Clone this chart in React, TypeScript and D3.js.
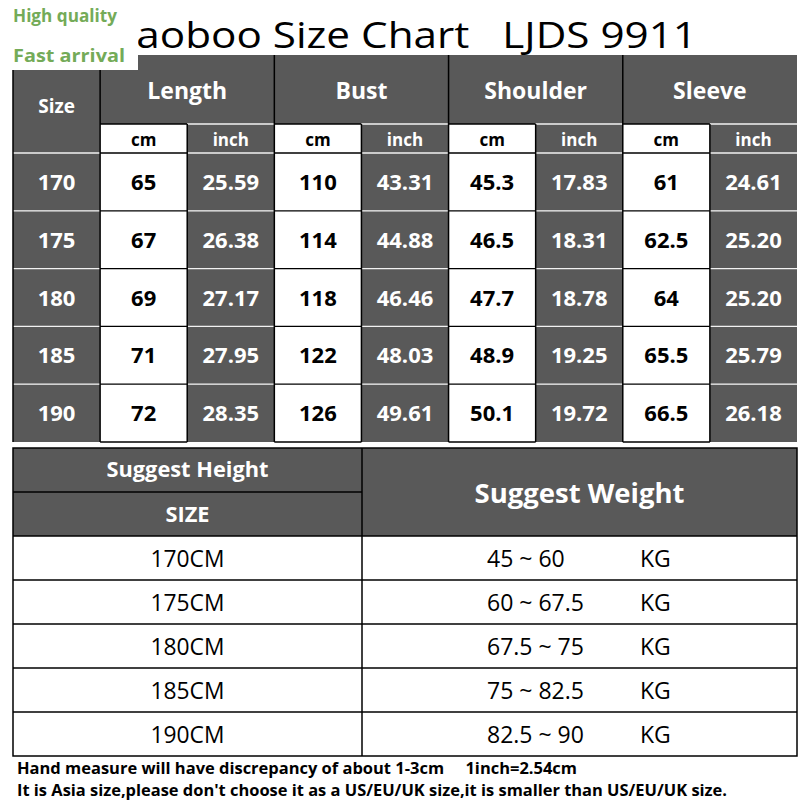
import React, { useEffect, useRef } from "react";
import * as d3 from "d3";

// size chart data
const sizes = ["170", "175", "180", "185", "190"];
const groups = ["Length", "Bust", "Shoulder", "Sleeve"];
const units = ["cm", "inch"];
const lengthCm = ["65", "67", "69", "71", "72"];
const lengthInch = ["25.59", "26.38", "27.17", "27.95", "28.35"];
const bustCm = ["110", "114", "118", "122", "126"];
const bustInch = ["43.31", "44.88", "46.46", "48.03", "49.61"];
const shoulderCm = ["45.3", "46.5", "47.7", "48.9", "50.1"];
const shoulderInch = ["17.83", "18.31", "18.78", "19.25", "19.72"];
const sleeveCm = ["61", "62.5", "64", "65.5", "66.5"];
const sleeveInch = ["24.61", "25.20", "25.20", "25.79", "26.18"];

const heights = ["170CM", "175CM", "180CM", "185CM", "190CM"];
const weights = ["45 ~ 60", "60 ~ 67.5", "67.5 ~ 75", "75 ~ 82.5", "82.5 ~ 90"];

const DARK = "#595959";
const FONT = "'Open Sans', 'Noto Sans', sans-serif";

const App = () => {
  const ref = useRef<SVGSVGElement>(null);

  useEffect(() => {
    drawChart();
  }, []);

  function drawChart() {
    const svg = d3.select(ref.current);
    svg.selectAll("*").remove();

    const columns = [
      sizes,
      lengthCm,
      lengthInch,
      bustCm,
      bustInch,
      shoulderCm,
      shoulderInch,
      sleeveCm,
      sleeveInch,
    ];

    const x = d3.scaleLinear().domain([0, columns.length]).range([13, 797]);
    const y = d3.scaleLinear().domain([0, sizes.length]).range([153, 442]);
    const headTop = 55;
    const subTop = 124;

    // title (first letter sits under the badge)
    svg
      .append("text")
      .attr("x", 113)
      .attr("y", 48)
      .attr("font-family", FONT)
      .attr("font-size", 37)
      .attr("fill", "#000")
      .attr("textLength", 584)
      .attr("lengthAdjust", "spacingAndGlyphs")
      .style("white-space", "pre")
      .text("Taoboo Size Chart   LJDS 9911");

    const isWhite = (c: number) => c > 0 && c % 2 === 1;

    // header fill
    svg
      .append("rect")
      .attr("x", x(0))
      .attr("y", headTop)
      .attr("width", x(columns.length) - x(0))
      .attr("height", y(0) - headTop)
      .attr("fill", DARK);

    // sub header cells (cm / inch)
    columns.forEach((_, c) => {
      if (c === 0) return;
      const g = svg.append("g");
      g.append("rect")
        .attr("x", x(c))
        .attr("y", subTop)
        .attr("width", x(c + 1) - x(c))
        .attr("height", y(0) - subTop)
        .attr("fill", isWhite(c) ? "#fff" : DARK);
      g.append("text")
        .attr("x", (x(c) + x(c + 1)) / 2)
        .attr("y", 145.5)
        .attr("text-anchor", "middle")
        .attr("font-family", FONT)
        .attr("font-weight", "bold")
        .attr("font-size", 17)
        .attr("fill", isWhite(c) ? "#000" : "#fff")
        .text(units[(c - 1) % 2]);
    });

    // group headers
    groups.forEach((name, i) => {
      svg
        .append("text")
        .attr("x", (x(1 + i * 2) + x(3 + i * 2)) / 2)
        .attr("y", 99)
        .attr("text-anchor", "middle")
        .attr("font-family", FONT)
        .attr("font-weight", "bold")
        .attr("font-size", 23)
        .attr("fill", "#fff")
        .text(name);
    });
    svg
      .append("text")
      .attr("x", (x(0) + x(1)) / 2)
      .attr("y", 113)
      .attr("text-anchor", "middle")
      .attr("font-family", FONT)
      .attr("font-weight", "bold")
      .attr("font-size", 19)
      .attr("fill", "#fff")
      .text("Size");

    // data cells
    columns.forEach((col, c) => {
      col.forEach((v, r) => {
        svg
          .append("rect")
          .attr("x", x(c))
          .attr("y", y(r))
          .attr("width", x(c + 1) - x(c))
          .attr("height", y(r + 1) - y(r))
          .attr("fill", isWhite(c) ? "#fff" : DARK);
        svg
          .append("text")
          .attr("x", (x(c) + x(c + 1)) / 2)
          .attr("y", (y(r) + y(r + 1)) / 2 + 8)
          .attr("text-anchor", "middle")
          .attr("font-family", FONT)
          .attr("font-weight", "bold")
          .attr("font-size", 22)
          .attr("fill", isWhite(c) ? "#000" : "#fff")
          .text(v);
      });
    });

    // horizontal rules: black on white cells, white on dark ones
    columns.forEach((_, c) => {
      const rows = d3.range(0, sizes.length + 1);
      rows.forEach((r) => {
        const yy = y(r);
        const white = isWhite(c);
        if (r === sizes.length && !white) return;
        svg
          .append("line")
          .attr("x1", x(c))
          .attr("x2", x(c + 1))
          .attr("y1", yy)
          .attr("y2", yy)
          .attr("stroke", white ? "#000" : "#f2f2f2")
          .attr("stroke-width", 1.3);
      });
      if (c > 0) {
        svg
          .append("line")
          .attr("x1", x(c))
          .attr("x2", x(c + 1))
          .attr("y1", subTop)
          .attr("y2", subTop)
          .attr("stroke", isWhite(c) ? "#000" : "#f2f2f2")
          .attr("stroke-width", 1.3);
      }
    });

    // vertical rules
    d3.range(0, columns.length).forEach((c) => {
      const top = c === 0 || c % 2 === 1 ? headTop : subTop;
      svg
        .append("line")
        .attr("x1", x(c))
        .attr("x2", x(c))
        .attr("y1", top)
        .attr("y2", y(sizes.length))
        .attr("stroke", "#000")
        .attr("stroke-width", 1.5);
    });

    // ---- bottom table ----
    const by = d3.scaleLinear().domain([0, heights.length]).range([536, 756]);
    const bTop = 448;
    const bMid = 492;
    const bx0 = 13;
    const bx1 = 362;
    const bx2 = 797;

    svg
      .append("rect")
      .attr("x", bx0)
      .attr("y", bTop)
      .attr("width", bx2 - bx0)
      .attr("height", by(0) - bTop)
      .attr("fill", DARK);

    svg
      .append("text")
      .attr("x", (bx0 + bx1) / 2)
      .attr("y", 477)
      .attr("text-anchor", "middle")
      .attr("font-family", FONT)
      .attr("font-weight", "bold")
      .attr("font-size", 21)
      .attr("fill", "#fff")
      .attr("textLength", 162)
      .attr("lengthAdjust", "spacingAndGlyphs")
      .text("Suggest Height");
    svg
      .append("text")
      .attr("x", (bx0 + bx1) / 2)
      .attr("y", 522)
      .attr("text-anchor", "middle")
      .attr("font-family", FONT)
      .attr("font-weight", "bold")
      .attr("font-size", 21)
      .attr("fill", "#fff")
      .attr("textLength", 44)
      .attr("lengthAdjust", "spacingAndGlyphs")
      .text("SIZE");
    svg
      .append("text")
      .attr("x", (bx1 + bx2) / 2)
      .attr("y", 503)
      .attr("text-anchor", "middle")
      .attr("font-family", FONT)
      .attr("font-weight", "bold")
      .attr("font-size", 26)
      .attr("fill", "#fff")
      .attr("textLength", 210)
      .attr("lengthAdjust", "spacingAndGlyphs")
      .text("Suggest Weight");

    heights.forEach((h, i) => {
      const cy = (by(i) + by(i + 1)) / 2 + 8.5;
      svg
        .append("text")
        .attr("x", (bx0 + bx1) / 2)
        .attr("y", cy)
        .attr("text-anchor", "middle")
        .attr("font-family", FONT)
        .attr("font-size", 23)
        .attr("fill", "#000")
        .attr("textLength", 74)
        .attr("lengthAdjust", "spacingAndGlyphs")
        .text(h);
      svg
        .append("text")
        .attr("x", 487)
        .attr("y", cy)
        .attr("font-family", FONT)
        .attr("font-size", 23)
        .attr("fill", "#000")
        .text(weights[i]);
      svg
        .append("text")
        .attr("x", 640)
        .attr("y", cy)
        .attr("font-family", FONT)
        .attr("font-size", 23)
        .attr("fill", "#000")
        .text("KG");
    });

    // bottom table rules
    const rule = (x1: number, y1: number, x2: number, y2: number) =>
      svg
        .append("line")
        .attr("x1", x1)
        .attr("y1", y1)
        .attr("x2", x2)
        .attr("y2", y2)
        .attr("stroke", "#000")
        .attr("stroke-width", 1.5);
    svg
      .append("rect")
      .attr("x", bx0)
      .attr("y", bTop)
      .attr("width", bx2 - bx0)
      .attr("height", by(heights.length) - bTop)
      .attr("fill", "none")
      .attr("stroke", "#000")
      .attr("stroke-width", 1.5);
    rule(bx1, bTop, bx1, by(heights.length));
    rule(bx0, bMid, bx1, bMid);
    d3.range(0, heights.length).forEach((i) => rule(bx0, by(i), bx2, by(i)));

    // footnotes
    svg
      .append("text")
      .attr("x", 17)
      .attr("y", 774)
      .attr("font-family", FONT)
      .attr("font-weight", "bold")
      .attr("font-size", 16)
      .attr("fill", "#000")
      .attr("textLength", 560)
      .attr("lengthAdjust", "spacingAndGlyphs")
      .style("white-space", "pre")
      .text("Hand measure will have discrepancy of about 1-3cm     1inch=2.54cm");
    svg
      .append("text")
      .attr("x", 17)
      .attr("y", 796)
      .attr("font-family", FONT)
      .attr("font-weight", "bold")
      .attr("font-size", 16)
      .attr("fill", "#000")
      .attr("textLength", 710)
      .attr("lengthAdjust", "spacingAndGlyphs")
      .text("It is Asia size,please don't choose it as a US/EU/UK size,it is smaller than US/EU/UK size.");

    // badge in the corner
    svg.append("rect").attr("x", 0).attr("y", 0).attr("width", 138).attr("height", 70).attr("fill", "#fff");
    svg
      .append("text")
      .attr("x", 13)
      .attr("y", 21.5)
      .attr("font-family", FONT)
      .attr("font-weight", "bold")
      .attr("font-size", 18)
      .attr("fill", "#74ab58")
      .attr("textLength", 104)
      .attr("lengthAdjust", "spacingAndGlyphs")
      .text("High quality");
    svg
      .append("text")
      .attr("x", 13)
      .attr("y", 62)
      .attr("font-family", FONT)
      .attr("font-weight", "bold")
      .attr("font-size", 18)
      .attr("fill", "#74ab58")
      .attr("textLength", 112)
      .attr("lengthAdjust", "spacingAndGlyphs")
      .text("Fast arrival");
  }

  return (
    <svg
      ref={ref}
      width={810}
      height={810}
      style={{ position: "absolute", left: 0, top: 0, background: "#fff" }}
    />
  );
};

export default App;
